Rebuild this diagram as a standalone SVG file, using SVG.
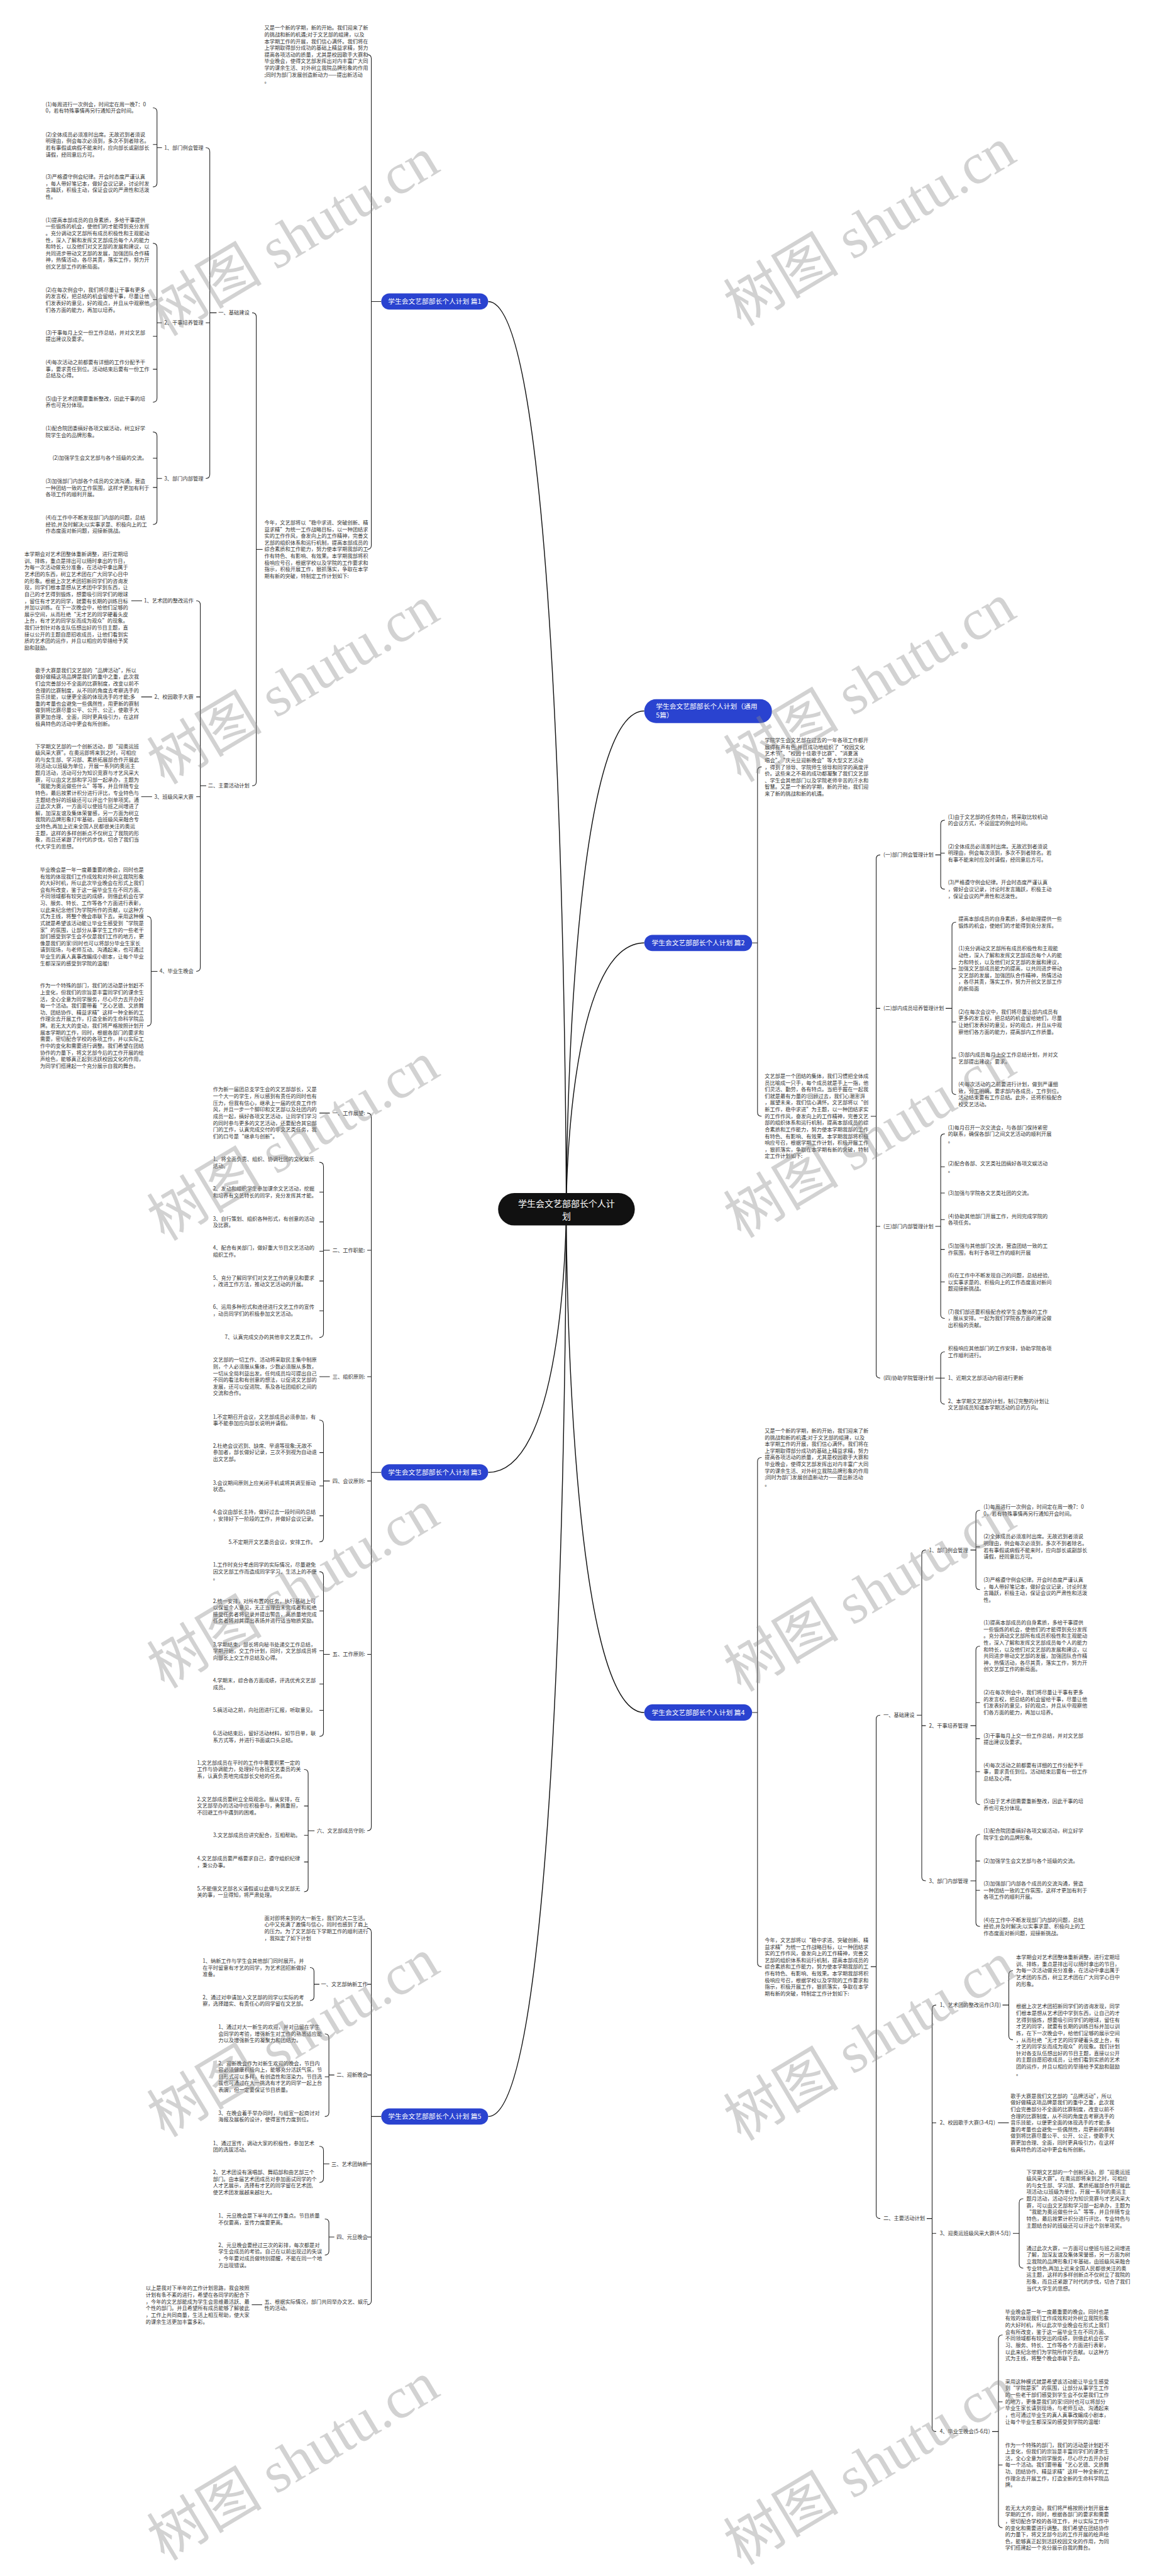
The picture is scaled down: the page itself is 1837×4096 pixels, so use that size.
<svg xmlns="http://www.w3.org/2000/svg" width="1837" height="4096" viewBox="0 0 1837 4096">
<style>
.t{font-family:"Noto Sans CJK SC","Noto Sans",sans-serif;font-size:11.5px;fill:#333}
.e{text-anchor:end}
.ln{fill:none;stroke:#222;stroke-width:1.5}
.tr{fill:none;stroke:#111;stroke-width:2}
.nb{fill:#2a43d0}
.nt{font-family:"Noto Sans CJK SC","Noto Sans",sans-serif;font-size:15px;fill:#fff}
.ct{font-family:"Noto Sans CJK SC","Noto Sans",sans-serif;font-size:19.5px;fill:#fff;text-anchor:middle}
.wm{font-family:"Liberation Serif","Noto Sans CJK SC",serif;font-size:128px;fill:#8a8a8a;opacity:.38;text-anchor:middle}
</style>
<rect width="1837" height="4096" fill="#fff"/>
<g transform="scale(0.71758,0.71772)">
<g id="connectors">
<path class="tr" d="M1255,2679 C1255,2679 1255,668 1082,668"/>
<path class="tr" d="M1255,2679 C1255,2679 1255,1575 1428,1575"/>
<path class="tr" d="M1255,2679 C1255,2679 1255,2089 1428,2089"/>
<path class="tr" d="M1255,2679 C1255,2679 1255,3262 1082,3262"/>
<path class="tr" d="M1255,2679 C1255,2679 1255,3794 1428,3794"/>
<path class="tr" d="M1255,2679 C1255,2679 1255,4689 1082,4689"/>
<path class="ln" d="M814,121 Q823,121 823,130 V1208 Q823,1217 814,1217 M823,668 H845"/>
<path class="ln" d="M568,1217 H582 M559,693 Q568,693 568,702 V1732 Q568,1741 559,1741"/>
<path class="ln" d="M465,693 H480 M456,327 Q465,327 465,336 V1051 Q465,1060 456,1060 M456,715 H465"/>
<path class="ln" d="M348,327 H359 M348,715 H359 M348,1060 H359"/>
<path class="ln" d="M339,239 Q348,239 348,248 V405 Q348,414 339,414 M339,320 H348"/>
<path class="ln" d="M339,539 Q348,539 348,548 V882 Q348,891 339,891 M339,664 H348 M339,745 H348 M339,818 H348"/>
<path class="ln" d="M339,957 Q348,957 348,966 V1153 Q348,1162 339,1162 M339,1015 H348 M339,1080 H348"/>
<path class="ln" d="M444,1741 H457 M435,1331 Q444,1331 444,1340 V2143 Q444,2152 435,2152 M435,1544 H444 M435,1765 H444"/>
<path class="ln" d="M291,1331 H315 M313,1544 H337 M313,1765 H337 M335,2152 H349"/>
<path class="ln" d="M326,2030 Q335,2030 335,2039 V2264 Q335,2273 326,2273"/>
<path class="ln" d="M814,2466 Q823,2466 823,2475 V4047 Q823,4056 814,4056 M814,2770 H823 M814,3050 H823 M814,3281 H823 M814,3665 H823 M823,3262 H845"/>
<path class="ln" d="M708,2466 H731 M717,2770 H731 M708,3050 H731 M717,3281 H731 M717,3665 H731 M683,4056 H697"/>
<path class="ln" d="M708,2575 Q717,2575 717,2584 V2954 Q717,2963 708,2963 M708,2641 H717 M708,2707 H717 M708,2772 H717 M708,2838 H717 M708,2904 H717"/>
<path class="ln" d="M708,3146 Q717,3146 717,3155 V3407 Q717,3416 708,3416 M708,3218 H717 M708,3292 H717 M708,3358 H717"/>
<path class="ln" d="M708,3482 Q717,3482 717,3491 V3838 Q717,3847 708,3847 M708,3569 H717 M708,3657 H717 M708,3731 H717 M708,3789 H717"/>
<path class="ln" d="M674,3920 Q683,3920 683,3929 V4182 Q683,4191 674,4191 M674,4001 H683 M674,4066 H683 M674,4125 H683"/>
<path class="ln" d="M814,4272 Q823,4272 823,4281 V5097 Q823,5106 814,5106 M814,4396 H823 M814,4597 H823 M814,4794 H823 M814,4956 H823 M823,4689 H845"/>
<path class="ln" d="M696,4396 H708 M687,4359 Q696,4359 696,4368 V4423 Q696,4432 687,4432"/>
<path class="ln" d="M729,4597 H741 M720,4506 Q729,4506 729,4515 V4680 Q729,4689 720,4689 M720,4601 H729"/>
<path class="ln" d="M717,4794 H730 M708,4755 Q717,4755 717,4764 V4826 Q717,4835 708,4835"/>
<path class="ln" d="M729,4956 H741 M720,4916 Q729,4916 729,4925 V4987 Q729,4996 720,4996"/>
<path class="ln" d="M558,5106 H581"/>
<path class="ln" d="M1667,2089 H1679 M1688,1699 Q1679,1699 1679,1708 V2464 Q1679,2473 1688,2473"/>
<path class="ln" d="M1930,2473 H1942 M1951,1894 Q1942,1894 1942,1903 V3044 Q1942,3053 1951,3053 M1942,2234 H1951 M1942,2717 H1951"/>
<path class="ln" d="M2073,1894 H2085 M2096,2234 H2110 M2073,2717 H2085 M2073,3053 H2085"/>
<path class="ln" d="M2094,1817 Q2085,1817 2085,1826 V1961 Q2085,1970 2094,1970 M2085,1890 H2094"/>
<path class="ln" d="M2119,2043 Q2110,2043 2110,2052 V2416 Q2110,2425 2119,2425 M2110,2146 H2119 M2110,2264 H2119 M2110,2344 H2119"/>
<path class="ln" d="M2094,2512 Q2085,2512 2085,2521 V2912 Q2085,2921 2094,2921 M2085,2585 H2094 M2085,2643 H2094 M2085,2702 H2094 M2085,2768 H2094 M2085,2840 H2094"/>
<path class="ln" d="M2094,2995 Q2085,2995 2085,3004 V3102 Q2085,3111 2094,3111 M2085,3053 H2094"/>
<path class="ln" d="M1667,3794 H1679 M1688,3229 Q1679,3229 1679,3238 V4348 Q1679,4357 1688,4357"/>
<path class="ln" d="M1930,4357 H1942 M1951,3800 Q1942,3800 1942,3809 V4906 Q1942,4915 1951,4915"/>
<path class="ln" d="M2032,3800 H2043 M2052,3434 Q2043,3434 2043,3443 V4158 Q2043,4167 2052,4167 M2043,3823 H2052"/>
<path class="ln" d="M2151,3434 H2163 M2151,3823 H2163 M2151,4167 H2163"/>
<path class="ln" d="M2172,3346 Q2163,3346 2163,3355 V3513 Q2163,3522 2172,3522 M2163,3427 H2172"/>
<path class="ln" d="M2172,3647 Q2163,3647 2163,3656 V3989 Q2163,3998 2172,3998 M2163,3772 H2172 M2163,3852 H2172 M2163,3925 H2172"/>
<path class="ln" d="M2172,4064 Q2163,4064 2163,4073 V4259 Q2163,4268 2172,4268 M2163,4123 H2172 M2163,4188 H2172"/>
<path class="ln" d="M2054,4915 H2066 M2075,4442 Q2066,4442 2066,4451 V5378 Q2066,5387 2075,5387 M2066,4703 H2075 M2066,4948 H2075"/>
<path class="ln" d="M2222,4442 H2236 M2245,4366 Q2236,4366 2236,4375 V4510 Q2236,4519 2245,4519"/>
<path class="ln" d="M2212,4703 H2236"/>
<path class="ln" d="M2245,4948 H2259 M2268,4871 Q2259,4871 2259,4880 V5016 Q2259,5025 2268,5025"/>
<path class="ln" d="M2199,5387 H2213 M2222,5173 Q2213,5173 2213,5182 V5591 Q2213,5600 2222,5600 M2213,5321 H2222 M2213,5461 H2222"/>
</g>

<g id="center">
<rect x="1104" y="2643" width="303" height="72" rx="36" fill="#111"/>
<text class="ct" x="1255.5" y="2674">学生会文艺部部长个人计</text>
<text class="ct" x="1255.5" y="2701">划</text>
</g>
<g id="node-p1">
<rect class="nb" x="845" y="650" width="237" height="36" rx="18"/>
<text class="nt" x="963.5" y="673.5" text-anchor="middle">学生会文艺部部长个人计划 篇1</text>
</g>
<g id="node-p3">
<rect class="nb" x="845" y="3244" width="237" height="36" rx="18"/>
<text class="nt" x="963.5" y="3267.5" text-anchor="middle">学生会文艺部部长个人计划 篇3</text>
</g>
<g id="node-p5">
<rect class="nb" x="845" y="4671" width="237" height="36" rx="18"/>
<text class="nt" x="963.5" y="4694.5" text-anchor="middle">学生会文艺部部长个人计划 篇5</text>
</g>
<g id="node-all">
<rect class="nb" x="1428" y="1549" width="283" height="53" rx="26"/>
<text class="nt" x="1454" y="1570">学生会文艺部部长个人计划（通用<tspan x="1454" dy="20">5篇）</tspan></text>
</g>
<g id="node-p2">
<rect class="nb" x="1428" y="2071" width="239" height="36" rx="18"/>
<text class="nt" x="1547.5" y="2094.5" text-anchor="middle">学生会文艺部部长个人计划 篇2</text>
</g>
<g id="node-p4">
<rect class="nb" x="1428" y="3776" width="239" height="36" rx="18"/>
<text class="nt" x="1547.5" y="3799.5" text-anchor="middle">学生会文艺部部长个人计划 篇4</text>
</g>

<g id="p1-texts">
<text class="t" x="586" y="66">又是一个新的学期，新的开始。我们迎来了新<tspan x="586" dy="14.8">的挑战和新的机遇;对于文艺部的组建，以及</tspan><tspan x="586" dy="14.8">本学期工作的开展，我们信心满怀。我们将在</tspan><tspan x="586" dy="14.8">上学期取得部分成功的基础上精益求精，努力</tspan><tspan x="586" dy="14.8">提高各项活动的质量，尤其是校园歌手大赛和</tspan><tspan x="586" dy="14.8">毕业晚会，使得文艺部发挥出对内丰富广大同</tspan><tspan x="586" dy="14.8">学的课余生活、对外树立我院品牌形象的作用</tspan><tspan x="586" dy="14.8">;同时为部门发展创造新动力——提出新活动</tspan><tspan x="586" dy="14.8">。</tspan></text>
<text class="t" x="586" y="1162">今年，文艺部将以“稳中求进、突破创新、精<tspan x="586" dy="14.8">益求精”为统一工作战略目标，以一种团结求</tspan><tspan x="586" dy="14.8">实的工作作风，奋发向上的工作精神，完善文</tspan><tspan x="586" dy="14.8">艺部的组织体系和运行机制，提高本部成员的</tspan><tspan x="586" dy="14.8">综合素质和工作能力，努力使本学期我部的工</tspan><tspan x="586" dy="14.8">作有特色、有影响、有效果。本学期我部将积</tspan><tspan x="586" dy="14.8">极响应号召，根据学校以及学院的工作要求和</tspan><tspan x="586" dy="14.8">指示，积极开展工作，狠抓落实，争取在本学</tspan><tspan x="586" dy="14.8">期有新的突破，特制定工作计划如下:</tspan></text>
<text class="t e" x="553" y="697">一、基础建设</text>
<text class="t e" x="451" y="331">1、部门例会管理</text>
<text class="t e" x="451" y="719">2、干事培养管理</text>
<text class="t e" x="451" y="1064">3、部门内部管理</text>
<text class="t e" x="553" y="1745">二、主要活动计划</text>
<text class="t e" x="429" y="1335">1、艺术团的整改运作</text>
<text class="t e" x="429" y="1548">2、校园歌手大赛</text>
<text class="t e" x="429" y="1769">3、班级风采大赛</text>
<text class="t e" x="429" y="2156">4、毕业生晚会</text>
<text class="t" x="101" y="235">(1)每周进行一次例会，时间定在周一晚7：0<tspan x="101" dy="14.8">0，若有特殊事情再另行通知开会时间。</tspan></text>
<text class="t" x="101" y="302">(2)全体成员必须准时出席。无故迟到者须说<tspan x="101" dy="14.8">明理由，例会每次必须到，多次不到者除名。</tspan><tspan x="101" dy="14.8">若有事假或病假不能来时，应向部长或副部长</tspan><tspan x="101" dy="14.8">请假，经同意后方可。</tspan></text>
<text class="t" x="101" y="396">(3)严格遵守例会纪律。开会时态度严谨认真<tspan x="101" dy="14.8">，每人带好笔记本，做好会议记录，讨论时发</tspan><tspan x="101" dy="14.8">言踊跃，积极主动，保证会议的严肃性和活泼</tspan><tspan x="101" dy="14.8">性。</tspan></text>
<text class="t" x="101" y="491.5">(1)提高本部成员的自身素质，多给干事提供<tspan x="101" dy="14.8">一些锻炼的机会，使他们的才能得到充分发挥</tspan><tspan x="101" dy="14.8">。充分调动文艺部所有成员积极性和主观能动</tspan><tspan x="101" dy="14.8">性，深入了解和发挥文艺部成员每个人的能力</tspan><tspan x="101" dy="14.8">和特长，以及他们对文艺部的发展和建议，以</tspan><tspan x="101" dy="14.8">共同进步带动文艺部的发展，加强团队合作精</tspan><tspan x="101" dy="14.8">神，热情活动，各尽其责，落实工作，努力开</tspan><tspan x="101" dy="14.8">创文艺部工作的新局面。</tspan></text>
<text class="t" x="101" y="646">(2)在每次例会中，我们将尽量让干事有更多<tspan x="101" dy="14.8">的发言权，把总结的机会留给干事，尽量让他</tspan><tspan x="101" dy="14.8">们发表好的意见，好的观点，并且从中观察他</tspan><tspan x="101" dy="14.8">们各方面的能力，再加以培养。</tspan></text>
<text class="t" x="101" y="741">(3)干事每月上交一份工作总结，并对文艺部<tspan x="101" dy="14.8">提出建议及要求。</tspan></text>
<text class="t" x="101" y="807">(4)每次活动之前都要有详细的工作分配予干<tspan x="101" dy="14.8">事，要求责任到位。活动结束后要有一份工作</tspan><tspan x="101" dy="14.8">总结及心得。</tspan></text>
<text class="t" x="101" y="887">(5)由于艺术团需要重新整改，因此干事的培<tspan x="101" dy="14.8">养也可充分体现。</tspan></text>
<text class="t" x="101" y="953">(1)配合院团委搞好各项文娱活动，树立好学<tspan x="101" dy="14.8">院学生会的品牌形象。</tspan></text>
<text class="t e" x="326" y="1019">(2)加强学生会文艺部与各个班级的交流。</text>
<text class="t" x="101" y="1070">(3)加强部门内部各个成员的交流沟通，营造<tspan x="101" dy="14.8">一种团结一致的工作氛围，这样才更加有利于</tspan><tspan x="101" dy="14.8">各项工作的顺利开展。</tspan></text>
<text class="t" x="101" y="1151">(4)在工作中不断发现部门内部的问题，总结<tspan x="101" dy="14.8">经验,并及时解决;以实事求是、积极向上的工</tspan><tspan x="101" dy="14.8">作态度面对新问题，迎接新挑战。</tspan></text>
<text class="t" x="54" y="1232">本学期会对艺术团整体重新调整，进行定期培<tspan x="54" dy="14.8">训、排练，重点是排出可以随时拿出的节目，</tspan><tspan x="54" dy="14.8">为每一次活动做充分准备，在活动中拿出属于</tspan><tspan x="54" dy="14.8">艺术团的东西，树立艺术团在广大同学心目中</tspan><tspan x="54" dy="14.8">的形象。根据上次艺术团招新同学们的咨询发</tspan><tspan x="54" dy="14.8">现，同学们根本是想从艺术团中学到东西，让</tspan><tspan x="54" dy="14.8">自己的才艺得到锻炼，想要吸引同学们的眼球</tspan><tspan x="54" dy="14.8">，留住有才艺的同学，就要有长期的训练目标</tspan><tspan x="54" dy="14.8">并加以训练。在下一次晚会中，给他们足够的</tspan><tspan x="54" dy="14.8">展示空间，从而杜绝“无才艺的同学硬着头皮</tspan><tspan x="54" dy="14.8">上台，有才艺的同学反而成为观众”的现象。</tspan><tspan x="54" dy="14.8">我们计划针对各支队伍想出好的节目主题，直</tspan><tspan x="54" dy="14.8">接以公开的主题自愿招收成员，让他们看到实</tspan><tspan x="54" dy="14.8">质的艺术团的运作，并且以相应的举措给予奖</tspan><tspan x="54" dy="14.8">励和鼓励。</tspan></text>
<text class="t" x="78" y="1489">歌手大赛是我们文艺部的“品牌活动”，所以<tspan x="78" dy="14.8">做好做精这项品牌是我们的重中之重，此次我</tspan><tspan x="78" dy="14.8">们会完善部分不全面的比赛制度，改变以前不</tspan><tspan x="78" dy="14.8">合理的比赛制度，从不同的角度去考察选手的</tspan><tspan x="78" dy="14.8">音乐技能，以便更全面的体现选手的才能;多</tspan><tspan x="78" dy="14.8">重的考量也会避免一些偶然性，用更新的赛制</tspan><tspan x="78" dy="14.8">做到将比赛尽量公平、公开、公正，使歌手大</tspan><tspan x="78" dy="14.8">赛更加合理、全面，同时更具吸引力，在这样</tspan><tspan x="78" dy="14.8">极具特色的活动中更会有所创新。</tspan></text>
<text class="t" x="78" y="1657.5">下学期文艺部的一个创新活动，即“迎奥运班<tspan x="78" dy="14.8">级风采大赛”。在奥运即将来到之时，可相应</tspan><tspan x="78" dy="14.8">的与女生部、学习部、素质拓展部合作开展此</tspan><tspan x="78" dy="14.8">项活动;以班级为单位，开展一系列的奥运主</tspan><tspan x="78" dy="14.8">题月活动，活动可分为知识竞赛与才艺风采大</tspan><tspan x="78" dy="14.8">赛，可以由文艺部和学习部一起承办，主题为</tspan><tspan x="78" dy="14.8">“我能为奥运做些什么”等等，并且伴随专业</tspan><tspan x="78" dy="14.8">特色，最后按累计积分进行评比，专业特色与</tspan><tspan x="78" dy="14.8">主题结合好的班级还可以评出个别单项奖。通</tspan><tspan x="78" dy="14.8">过此次大赛，一方面可以使班与班之间增进了</tspan><tspan x="78" dy="14.8">解，加深友谊及集体荣誉感，另一方面为树立</tspan><tspan x="78" dy="14.8">我院的品牌形象打牢基础，由班级风采融合专</tspan><tspan x="78" dy="14.8">业特色,再加上近来全国人民都很关注的奥运</tspan><tspan x="78" dy="14.8">主题，这样的多样创新点不仅树立了我院的形</tspan><tspan x="78" dy="14.8">象，而且还紧跟了时代的步伐，切合了我们当</tspan><tspan x="78" dy="14.8">代大学生的思想。</tspan></text>
<text class="t" x="89" y="1931">毕业晚会是一年一度最重要的晚会，同时也是<tspan x="89" dy="14.8">有效的体现我们工作成效和对外树立我院形象</tspan><tspan x="89" dy="14.8">的大好时机，所以此次毕业晚会在形式上我们</tspan><tspan x="89" dy="14.8">会有所改变，鉴于这一届毕业生在不同方面、</tspan><tspan x="89" dy="14.8">不同领域都有较突出的成绩，则借此机会在学</tspan><tspan x="89" dy="14.8">习、服务、特长、工作等各个方面进行表彰，</tspan><tspan x="89" dy="14.8">以此来纪念他们为学院所作的贡献，以这种方</tspan><tspan x="89" dy="14.8">式为主线，将整个晚会串联下去。采用这种模</tspan><tspan x="89" dy="14.8">式就是希望该活动能让毕业生感受到“学院是</tspan><tspan x="89" dy="14.8">家”的氛围，让部分从事学生工作的一些老干</tspan><tspan x="89" dy="14.8">部们感受到学生会不仅是我们工作的地方，更</tspan><tspan x="89" dy="14.8">像是我们的家!同时也可以将部分毕业生家长</tspan><tspan x="89" dy="14.8">请到现场，与老师互动、沟通起来，也可通过</tspan><tspan x="89" dy="14.8">毕业生的真人真事改编成小剧本，让每个毕业</tspan><tspan x="89" dy="14.8">生都深深的感受到学院的温暖!</tspan></text>
<text class="t" x="89" y="2188">作为一个特殊的部门，我们的活动是计划赶不<tspan x="89" dy="14.8">上变化，但我们的宗旨是丰富同学们的课余生</tspan><tspan x="89" dy="14.8">活，全心全意为同学服务，尽心尽力去开办好</tspan><tspan x="89" dy="14.8">每一个活动。我们要带着“艺心艺德、文质舞</tspan><tspan x="89" dy="14.8">功、团结协作、精益求精”这样一种全新的工</tspan><tspan x="89" dy="14.8">作理念去开展工作，打造全新的生命科学院品</tspan><tspan x="89" dy="14.8">牌。若无太大的变动，我们将严格按照计划开</tspan><tspan x="89" dy="14.8">展本学期的工作，同时，根据各部门的要求和</tspan><tspan x="89" dy="14.8">需要，密切配合学校的各项工作，并以实际工</tspan><tspan x="89" dy="14.8">作中的变化和需要进行调整。我们希望在团结</tspan><tspan x="89" dy="14.8">协作的力量下，将文艺部今后的工作开展的绘</tspan><tspan x="89" dy="14.8">声绘色，能够真正起到活跃校园文化的作用，</tspan><tspan x="89" dy="14.8">为同学们搭建起一个充分展示自我的舞台。</tspan></text>
</g>

<g id="p3-texts">
<text class="t e" x="809" y="2470">一、工作展望:</text>
<text class="t e" x="809" y="2774">二、工作职能:</text>
<text class="t e" x="809" y="3054">三、组织原则:</text>
<text class="t e" x="809" y="3285">四、会议原则:</text>
<text class="t e" x="809" y="3669">五、工作原则:</text>
<text class="t e" x="809" y="4060">六、文艺部成员守则:</text>
<text class="t" x="472" y="2418">作为新一届团总支学生会的文艺部部长，又是<tspan x="472" dy="14.8">一个大一的学生，所以感到有责任的同时也有</tspan><tspan x="472" dy="14.8">压力，但我有信心，继承上一届的优良工作作</tspan><tspan x="472" dy="14.8">风，并且一步一个脚印和文艺部以及社团内的</tspan><tspan x="472" dy="14.8">成员一起，搞好各项文艺活动，让同学们学习</tspan><tspan x="472" dy="14.8">的同时参与更多的文艺活动，还要配合其它部</tspan><tspan x="472" dy="14.8">门的工作，认真完成交付的非文艺类任务，我</tspan><tspan x="472" dy="14.8">们的口号是“继承与创新”。</tspan></text>
<text class="t" x="472" y="2572">1、将全面负责、组织、协调社团的文化娱乐<tspan x="472" dy="14.8">活动。</tspan></text>
<text class="t" x="472" y="2638">2、发动和组织学生参加课余文艺活动，挖掘<tspan x="472" dy="14.8">和培养有文艺特长的同学，充分发挥其才能。</tspan></text>
<text class="t" x="472" y="2704">3、自行策划、组织各种形式，有创意的活动<tspan x="472" dy="14.8">及比赛。</tspan></text>
<text class="t" x="472" y="2769">4、配合有关部门，做好重大节目文艺活动的<tspan x="472" dy="14.8">组织工作。</tspan></text>
<text class="t" x="472" y="2835">5、充分了解同学们对文艺工作的意见和要求<tspan x="472" dy="14.8">，改进工作方法，推动文艺活动的开展。</tspan></text>
<text class="t" x="472" y="2900">6、运用多种形式和途径进行文艺工作的宣传<tspan x="472" dy="14.8">，动员同学们的积极参加文艺活动。</tspan></text>
<text class="t e" x="700" y="2967">7、认真完成交办的其他非文艺类工作。</text>
<text class="t" x="472" y="3017">文艺部的一切工作、活动将采取民主集中制原<tspan x="472" dy="14.8">则，个人必须服从集体，少数必须服从多数，</tspan><tspan x="472" dy="14.8">一切从全局利益出发。任何成员均可提出自己</tspan><tspan x="472" dy="14.8">不同的看法和有创意的想法，以促进文艺部的</tspan><tspan x="472" dy="14.8">发展，还可以促进院、系及各社团组织之间的</tspan><tspan x="472" dy="14.8">交流和合作。</tspan></text>
<text class="t" x="472" y="3143">1.不定期召开会议，文艺部成员必须参加，有<tspan x="472" dy="14.8">事不能参加应向部长说明并请假。</tspan></text>
<text class="t" x="472" y="3207">2.杜绝会议迟到、缺席、早退等现象;无故不<tspan x="472" dy="14.8">参加者，部长做好记录，三次不到视为自动退</tspan><tspan x="472" dy="14.8">出文艺部。</tspan></text>
<text class="t" x="472" y="3289">3.会议期间原则上应关闭手机或将其调至振动<tspan x="472" dy="14.8">状态。</tspan></text>
<text class="t" x="472" y="3354">4.会议由部长主持，做好过去一段时间的总结<tspan x="472" dy="14.8">，安排好下一阶段的工作，并做好会议记录。</tspan></text>
<text class="t e" x="700" y="3420">5.不定期开文艺委员会议，安排工作。</text>
<text class="t" x="472" y="3471">1.工作时充分考虑同学的实际情况，尽量避免<tspan x="472" dy="14.8">因文艺部工作而造成同学学习、生活上的不便</tspan><tspan x="472" dy="14.8">。</tspan></text>
<text class="t" x="472" y="3551">2.统一安排，对所布置的任务，执行基础上可<tspan x="472" dy="14.8">以保留个人意见，无正当理由未完成者和拒绝</tspan><tspan x="472" dy="14.8">接受任务者将记录并提出警告，高质量地完成</tspan><tspan x="472" dy="14.8">任务者将对其提出表扬并进行适当物质奖励。</tspan></text>
<text class="t" x="472" y="3647">3.学期结束，部长将向秘书处递交工作总结，<tspan x="472" dy="14.8">学期开始，交工作计划，同时，文艺部成员将</tspan><tspan x="472" dy="14.8">向部长上交工作总结及心得。</tspan></text>
<text class="t" x="472" y="3727">4.学期末，综合各方面成绩，评选优秀文艺部<tspan x="472" dy="14.8">成员。</tspan></text>
<text class="t e" x="700" y="3793">5.搞活动之前，向社团进行汇报，听取意见。</text>
<text class="t" x="472" y="3844">6.活动结束后，留好活动材料，如节目单，联<tspan x="472" dy="14.8">系方式等，并进行书面或口头总结。</tspan></text>
<text class="t" x="437" y="3909">1.文艺部成员在平时的工作中需要积累一定的<tspan x="437" dy="14.8">工作与协调能力，处理好与各班文艺委员的关</tspan><tspan x="437" dy="14.8">系，认真负责地完成部长交给的任务。</tspan></text>
<text class="t" x="437" y="3990">2.文艺部成员要树立全局观念。服从安排，在<tspan x="437" dy="14.8">文艺部举办的活动中应积极参与，勇挑重担，</tspan><tspan x="437" dy="14.8">不回避工作中遇到的困难。</tspan></text>
<text class="t e" x="666" y="4070">3.文艺部成员应讲究配合，互相帮助。</text>
<text class="t" x="437" y="4122">4.文艺部成员要严格要求自己，遵守组织纪律<tspan x="437" dy="14.8">，秉公办事。</tspan></text>
<text class="t" x="437" y="4188">5.不能借文艺部名义请假或以此做与文艺部无<tspan x="437" dy="14.8">关的事，一旦得知，将严肃处理。</tspan></text>
</g>

<g id="p5-texts">
<text class="t" x="586" y="4253.5">面对即将来到的大一新生，我们的大二生活。<tspan x="586" dy="14.8">心中又充满了激情与信心，同时也感到了肩上</tspan><tspan x="586" dy="14.8">的压力。为了文艺部在下学期工作的顺利进行</tspan><tspan x="586" dy="14.8">，我拟定了如下计划</tspan></text>
<text class="t e" x="815" y="4400">一、文艺部纳新工作</text>
<text class="t e" x="815" y="4601">二、迎新晚会</text>
<text class="t e" x="815" y="4798">三、艺术团纳新</text>
<text class="t e" x="815" y="4960">四、元旦晚会</text>
<text class="t" x="586" y="5103">五、根据实际情况，部门共同举办文艺、娱乐<tspan x="586" dy="14.8">性的活动。</tspan></text>
<text class="t" x="449" y="4348.7">1、纳新工作与学生会其他部门同时展开。并<tspan x="449" dy="14.8">在平时留意有才艺的同学，为艺术团招新做好</tspan><tspan x="449" dy="14.8">准备。</tspan></text>
<text class="t" x="449" y="4429">2、通过对申请加入文艺部的同学以实际的考<tspan x="449" dy="14.8">察，选择踏实、有责任心的同学留在文艺部。</tspan></text>
<text class="t" x="484" y="4495">1、通过对大一新生的欢迎，并对已留在学生<tspan x="484" dy="14.8">会同学的考验，增强新生对工作的熟悉适应能</tspan><tspan x="484" dy="14.8">力以及增强新生的凝聚力和团结力。</tspan></text>
<text class="t" x="484" y="4575">2、迎新晚会作为对新生欢迎的晚会，节目内<tspan x="484" dy="14.8">容必须健康积极向上，能够充分活跃气氛，节</tspan><tspan x="484" dy="14.8">目形式可以多样，有创造性和渲染力。节目选</tspan><tspan x="484" dy="14.8">拔也可通过在大一挑选有才艺的同学一起上台</tspan><tspan x="484" dy="14.8">表演，但一定要保证节目质量。</tspan></text>
<text class="t" x="484" y="4685.5">3、在晚会着手举办同时，与组宣一起商讨对<tspan x="484" dy="14.8">海报及展板的设计，使得宣传力度到位。</tspan></text>
<text class="t" x="472" y="4752">1、通过宣传，调动大家的积极性，参加艺术<tspan x="472" dy="14.8">团的选拔活动。</tspan></text>
<text class="t" x="472" y="4817">2、艺术团设有演唱部、舞蹈部和曲艺部三个<tspan x="472" dy="14.8">部门。由本届艺术团成员对参加面试同学的个</tspan><tspan x="472" dy="14.8">人才艺展示，选择有才艺的同学留在艺术团,</tspan><tspan x="472" dy="14.8">使艺术团发展越来越壮大。</tspan></text>
<text class="t" x="484" y="4913">1、元旦晚会是下半年的工作重点。节目质量<tspan x="484" dy="14.8">不仅要高，宣传力度要更高。</tspan></text>
<text class="t" x="484" y="4978">2、元旦晚会要经过三次的彩排，每次都是对<tspan x="484" dy="14.8">学生会成员的考验。自己在以前出现过的失误</tspan><tspan x="484" dy="14.8">，今年要对成员做特别提醒，不能在同一个地</tspan><tspan x="484" dy="14.8">方出现错误。</tspan></text>
<text class="t" x="323" y="5073.6">以上是我对下半年的工作计划思路，我会按照<tspan x="323" dy="14.8">计划有条不紊的进行，希望在各同学的配合下</tspan><tspan x="323" dy="14.8">，今年的文艺部能成为学生会思维最活跃、最</tspan><tspan x="323" dy="14.8">个性的部门。并且希望所有成员能够了解彼此</tspan><tspan x="323" dy="14.8">，工作上共同商量，生活上相互帮助，使大家</tspan><tspan x="323" dy="14.8">的课余生活更加丰富多彩。</tspan></text>
</g>

<g id="p2-texts">
<text class="t" x="1695" y="1644.2">学院学生会文艺部在过去的一年各项工作都开<tspan x="1695" dy="14.8">展得有声有色,并且成功地组织了“校园文化</tspan><tspan x="1695" dy="14.8">艺术节”、“校园十佳歌手比赛”、“消夏演</tspan><tspan x="1695" dy="14.8">唱会”、“庆元旦迎新晚会”等大型文艺活动</tspan><tspan x="1695" dy="14.8">，得到了领导、学院师生领导和同学的高度评</tspan><tspan x="1695" dy="14.8">价。这些来之不易的成功都凝聚了我们文艺部</tspan><tspan x="1695" dy="14.8">、学生会其他部门以及学院老师辛苦的汗水和</tspan><tspan x="1695" dy="14.8">智慧。又是一个新的学期，新的开始，我们迎</tspan><tspan x="1695" dy="14.8">来了新的挑战和新的机遇。</tspan></text>
<text class="t" x="1695" y="2388">文艺部是一个团结的集体，我们习惯把全体成<tspan x="1695" dy="14.8">员比喻成一只手，每个成员就是手上一指，他</tspan><tspan x="1695" dy="14.8">们灵活、勤劳，各有特点。当把手握在一起我</tspan><tspan x="1695" dy="14.8">们就是最有力量的!回顾过去，我们心潮澎湃</tspan><tspan x="1695" dy="14.8">，展望未来，我们信心满怀。文艺部将以“创</tspan><tspan x="1695" dy="14.8">新工作，稳中求进”为主题，以一种团结求实</tspan><tspan x="1695" dy="14.8">的工作作风，奋发向上的工作精神，完善文艺</tspan><tspan x="1695" dy="14.8">部的组织体系和运行机制，提高本部成员的综</tspan><tspan x="1695" dy="14.8">合素质和工作能力，努力使本学期我部的工作</tspan><tspan x="1695" dy="14.8">有特色、有影响、有效果。本学期我部将积极</tspan><tspan x="1695" dy="14.8">响应号召，根据学期工作计划，积极开展工作</tspan><tspan x="1695" dy="14.8">，狠抓落实，争取在本学期有新的突破，特制</tspan><tspan x="1695" dy="14.8">定工作计划如下:</tspan></text>
<text class="t" x="1958" y="1898">(一)部门例会管理计划</text>
<text class="t" x="1958" y="2238">(二)部内成员培养管理计划</text>
<text class="t" x="1958" y="2721">(三)部门内部管理计划</text>
<text class="t" x="1958" y="3057">(四)协助学院管理计划</text>
<text class="t" x="2101" y="1813.5">(1)由于文艺部的任务特点，将采取比较机动<tspan x="2101" dy="14.8">的会议方式，不设固定的例会时间。</tspan></text>
<text class="t" x="2101" y="1879">(2)全体成员必须准时出席。无故迟到者须说<tspan x="2101" dy="14.8">明理由，例会每次须到，多次不到者除名。若</tspan><tspan x="2101" dy="14.8">有事不能来时应及时请假，经同意后方可。</tspan></text>
<text class="t" x="2101" y="1959.6">(3)严格遵守例会纪律。开会时态度严谨认真<tspan x="2101" dy="14.8">，做好会议记录，讨论时发言踊跃，积极主动</tspan><tspan x="2101" dy="14.8">，保证会议的严肃性和活泼性。</tspan></text>
<text class="t" x="2124" y="2040">提高本部成员的自身素质，多给助理提供一些<tspan x="2124" dy="14.8">锻炼的机会，使她们的才能得到充分发挥。</tspan></text>
<text class="t" x="2124" y="2105.8">(1)充分调动文艺部所有成员积极性和主观能<tspan x="2124" dy="14.8">动性，深入了解和发挥文艺部成员每个人的能</tspan><tspan x="2124" dy="14.8">力和特长，以及他们对文艺部的发展和建议，</tspan><tspan x="2124" dy="14.8">加强文艺部成员能力的提高，以共同进步带动</tspan><tspan x="2124" dy="14.8">文艺部的发展，加强团队合作精神，热情活动</tspan><tspan x="2124" dy="14.8">，各尽其责，落实工作，努力开创文艺部工作</tspan><tspan x="2124" dy="14.8">的新局面</tspan></text>
<text class="t" x="2124" y="2245.5">(2)在每次会议中，我们将尽量让部内成员有<tspan x="2124" dy="14.8">更多的发言权，把总结的机会留给她们，尽量</tspan><tspan x="2124" dy="14.8">让她们发表好的意见，好的观点，并且从中观</tspan><tspan x="2124" dy="14.8">察他们各方面的能力，提高部内工作质量。</tspan></text>
<text class="t" x="2124" y="2340.7">(3)部内成员每月上交工作总结计划，并对文<tspan x="2124" dy="14.8">艺部提出建议，要求。</tspan></text>
<text class="t" x="2124" y="2406.4">(4)每次活动的之前要进行计划，做到严谨细<tspan x="2124" dy="14.8">致，分工明确。要求部内各成员，工作到位。</tspan><tspan x="2124" dy="14.8">活动结束要有工作总结。此外，还将积极配合</tspan><tspan x="2124" dy="14.8">校文艺活动。</tspan></text>
<text class="t" x="2101" y="2501.7">(1)每月召开一次交流会，与各部门保持紧密<tspan x="2101" dy="14.8">的联系，确保各部门之间文艺活动的顺利开展</tspan><tspan x="2101" dy="14.8">。</tspan></text>
<text class="t" x="2101" y="2581.8">(2)配合各部、文艺类社团搞好各项文娱活动<tspan x="2101" dy="14.8">。</tspan></text>
<text class="t" x="2101" y="2647.4">(3)加强与学院各文艺类社团的交流。</text>
<text class="t" x="2101" y="2698.3">(4)协助其他部门开展工作，共同完成学院的<tspan x="2101" dy="14.8">各项任务。</tspan></text>
<text class="t" x="2101" y="2764.9">(5)加强与其他部门交流，营造团结一致的工<tspan x="2101" dy="14.8">作氛围，有利于各项工作的顺利开展</tspan></text>
<text class="t" x="2101" y="2829.7">(6)在工作中不断发现自己的问题，总结经验,<tspan x="2101" dy="14.8">以实事求是的、积极向上的工作态度面对新问</tspan><tspan x="2101" dy="14.8">题迎接新挑战。</tspan></text>
<text class="t" x="2101" y="2910">(7)我们部还要积极配合校学生会整体的工作<tspan x="2101" dy="14.8">，服从安排。一起为我们学院各方面的建设做</tspan><tspan x="2101" dy="14.8">出积极的贡献。</tspan></text>
<text class="t" x="2101" y="2991.5">积极响应其他部门的工作安排，协助学院各项<tspan x="2101" dy="14.8">工作顺利进行。</tspan></text>
<text class="t" x="2101" y="3057">1、近期文艺部活动内容进行更新</text>
<text class="t" x="2101" y="3108">2、本学期文艺部的计划，制订完整的计划让<tspan x="2101" dy="14.8">文艺部成员知道本学期活动的总的方向。</tspan></text>
</g>

<g id="p4-texts">
<text class="t" x="1695" y="3173.8">又是一个新的学期，新的开始，我们迎来了新<tspan x="1695" dy="14.8">的挑战和新的机遇;对于文艺部的组建，以及</tspan><tspan x="1695" dy="14.8">本学期工作的开展，我们信心满怀。我们将在</tspan><tspan x="1695" dy="14.8">上学期取得部分成功的基础上精益求精，努力</tspan><tspan x="1695" dy="14.8">提高各项活动的质量，尤其是校园歌手大赛和</tspan><tspan x="1695" dy="14.8">毕业晚会，使得文艺部发挥出对内丰富广大同</tspan><tspan x="1695" dy="14.8">学的课余生活、对外树立我院品牌形象的作用</tspan><tspan x="1695" dy="14.8">;同时为部门发展创造新动力——提出新活动</tspan><tspan x="1695" dy="14.8">。</tspan></text>
<text class="t" x="1695" y="4302.4">今年，文艺部将以“稳中求进、突破创新、精<tspan x="1695" dy="14.8">益求精”为统一工作战略目标，以一种团结求</tspan><tspan x="1695" dy="14.8">实的工作作风，奋发向上的工作精神，完善文</tspan><tspan x="1695" dy="14.8">艺部的组织体系和运行机制，提高本部成员的</tspan><tspan x="1695" dy="14.8">综合素质和工作能力，努力使本学期我部的工</tspan><tspan x="1695" dy="14.8">作有特色、有影响、有效果。本学期我部将积</tspan><tspan x="1695" dy="14.8">极响应号召，根据学校以及学院的工作要求和</tspan><tspan x="1695" dy="14.8">指示，积极开展工作，狠抓落实，争取在本学</tspan><tspan x="1695" dy="14.8">期有新的突破，特制定工作计划如下:</tspan></text>
<text class="t" x="1958" y="3804">一、基础建设</text>
<text class="t" x="1958" y="4919">二、主要活动计划</text>
<text class="t" x="2059" y="3438">1、部门例会管理</text>
<text class="t" x="2059" y="3827">2、干事培养管理</text>
<text class="t" x="2059" y="4171">3、部门内部管理</text>
<text class="t" x="2180" y="3343">(1)每周进行一次例会，时间定在周一晚7：0<tspan x="2180" dy="14.8">0，若有特殊事情再另行通知开会时间。</tspan></text>
<text class="t" x="2180" y="3408.7">(2)全体成员必须准时出席。无故迟到者须说<tspan x="2180" dy="14.8">明理由，例会每次必须到，多次不到者除名。</tspan><tspan x="2180" dy="14.8">若有事假或病假不能来时，应向部长或副部长</tspan><tspan x="2180" dy="14.8">请假，经同意后方可。</tspan></text>
<text class="t" x="2180" y="3504">(3)严格遵守例会纪律。开会时态度严谨认真<tspan x="2180" dy="14.8">，每人带好笔记本，做好会议记录，讨论时发</tspan><tspan x="2180" dy="14.8">言踊跃，积极主动，保证会议的严肃性和活泼</tspan><tspan x="2180" dy="14.8">性。</tspan></text>
<text class="t" x="2180" y="3599">(1)提高本部成员的自身素质，多给干事提供<tspan x="2180" dy="14.8">一些锻炼的机会，使他们的才能得到充分发挥</tspan><tspan x="2180" dy="14.8">。充分调动文艺部所有成员积极性和主观能动</tspan><tspan x="2180" dy="14.8">性，深入了解和发挥文艺部成员每个人的能力</tspan><tspan x="2180" dy="14.8">和特长，以及他们对文艺部的发展和建议，以</tspan><tspan x="2180" dy="14.8">共同进步带动文艺部的发展，加强团队合作精</tspan><tspan x="2180" dy="14.8">神，热情活动，各尽其责，落实工作，努力开</tspan><tspan x="2180" dy="14.8">创文艺部工作的新局面。</tspan></text>
<text class="t" x="2180" y="3753.7">(2)在每次例会中，我们将尽量让干事有更多<tspan x="2180" dy="14.8">的发言权，把总结的机会留给干事，尽量让他</tspan><tspan x="2180" dy="14.8">们发表好的意见，好的观点，并且从中观察他</tspan><tspan x="2180" dy="14.8">们各方面的能力，再加以培养。</tspan></text>
<text class="t" x="2180" y="3849">(3)干事每月上交一份工作总结，并对文艺部<tspan x="2180" dy="14.8">提出建议及要求。</tspan></text>
<text class="t" x="2180" y="3914.7">(4)每次活动之前都要有详细的工作分配予干<tspan x="2180" dy="14.8">事，要求责任到位。活动结束后要有一份工作</tspan><tspan x="2180" dy="14.8">总结及心得。</tspan></text>
<text class="t" x="2180" y="3995">(5)由于艺术团需要重新整改，因此干事的培<tspan x="2180" dy="14.8">养也可充分体现。</tspan></text>
<text class="t" x="2180" y="4060.6">(1)配合院团委搞好各项文娱活动，树立好学<tspan x="2180" dy="14.8">院学生会的品牌形象。</tspan></text>
<text class="t" x="2180" y="4127">(2)加强学生会文艺部与各个班级的交流。</text>
<text class="t" x="2180" y="4177">(3)加强部门内部各个成员的交流沟通，营造<tspan x="2180" dy="14.8">一种团结一致的工作氛围，这样才更加有利于</tspan><tspan x="2180" dy="14.8">各项工作的顺利开展。</tspan></text>
<text class="t" x="2180" y="4257.7">(4)在工作中不断发现部门内部的问题，总结<tspan x="2180" dy="14.8">经验,并及时解决;以实事求是、积极向上的工</tspan><tspan x="2180" dy="14.8">作态度面对新问题，迎接新挑战。</tspan></text>
<text class="t" x="2083" y="4446">1、艺术团的整改运作(3月)</text>
<text class="t" x="2083" y="4707">2、校园歌手大赛(3-4月)</text>
<text class="t" x="2083" y="4952">3、迎奥运班级风采大赛(4-5月)</text>
<text class="t" x="2083" y="5391">4、毕业生晚会(5-6月)</text>
<text class="t" x="2252" y="4340.5">本学期会对艺术团整体重新调整，进行定期培<tspan x="2252" dy="14.8">训、排练，重点是排出可以随时拿出的节目，</tspan><tspan x="2252" dy="14.8">为每一次活动做充分准备，在活动中拿出属于</tspan><tspan x="2252" dy="14.8">艺术团的东西，树立艺术团在广大同学心目中</tspan><tspan x="2252" dy="14.8">的形象。</tspan></text>
<text class="t" x="2252" y="4449.4">根据上次艺术团招新同学们的咨询发现，同学<tspan x="2252" dy="14.8">们根本是想从艺术团中学到东西，让自己的才</tspan><tspan x="2252" dy="14.8">艺得到锻炼，想要吸引同学们的眼球，留住有</tspan><tspan x="2252" dy="14.8">才艺的同学，就要有长期的训练目标并加以训</tspan><tspan x="2252" dy="14.8">练，在下一次晚会中，给他们足够的展示空间</tspan><tspan x="2252" dy="14.8">，从而杜绝“无才艺的同学硬着头皮上台，有</tspan><tspan x="2252" dy="14.8">才艺的同学反而成为观众”的现象。我们计划</tspan><tspan x="2252" dy="14.8">针对各支队伍想出好的节目主题，直接以公开</tspan><tspan x="2252" dy="14.8">的主题自愿招收成员，让他们看到实质的艺术</tspan><tspan x="2252" dy="14.8">团的运作，并且以相应的举措给予奖励和鼓励</tspan><tspan x="2252" dy="14.8">。</tspan></text>
<text class="t" x="2240" y="4647.6">歌手大赛是我们文艺部的“品牌活动”，所以<tspan x="2240" dy="14.8">做好做精这项品牌是我们的重中之重，此次我</tspan><tspan x="2240" dy="14.8">们会完善部分不全面的比赛制度，改变以前不</tspan><tspan x="2240" dy="14.8">合理的比赛制度，从不同的角度去考察选手的</tspan><tspan x="2240" dy="14.8">音乐技能，以便更全面的体现选手的才能;多</tspan><tspan x="2240" dy="14.8">重的考量也会避免一些偶然性，用更新的赛制</tspan><tspan x="2240" dy="14.8">做到将比赛尽量公平、公开、公正，使歌手大</tspan><tspan x="2240" dy="14.8">赛更加合理、全面，同时更具吸引力，在这样</tspan><tspan x="2240" dy="14.8">极具特色的活动中更会有所创新。</tspan></text>
<text class="t" x="2275" y="4816">下学期文艺部的一个创新活动，即“迎奥运班<tspan x="2275" dy="14.8">级风采大赛”。在奥运即将来到之时，可相应</tspan><tspan x="2275" dy="14.8">的与女生部、学习部、素质拓展部合作开展此</tspan><tspan x="2275" dy="14.8">项活动;以班级为单位，开展一系列的奥运主</tspan><tspan x="2275" dy="14.8">题月活动，活动可分为知识竞赛与才艺风采大</tspan><tspan x="2275" dy="14.8">赛，可以由文艺部和学习部一起承办，主题为</tspan><tspan x="2275" dy="14.8">“我能为奥运做些什么”等等，并且伴随专业</tspan><tspan x="2275" dy="14.8">特色，最后按累计积分进行评比，专业特色与</tspan><tspan x="2275" dy="14.8">主题结合好的班级还可以评出个别单项奖。</tspan></text>
<text class="t" x="2275" y="4985">通过此次大赛，一方面可以使班与班之间增进<tspan x="2275" dy="14.8">了解，加深友谊及集体荣誉感，另一方面为树</tspan><tspan x="2275" dy="14.8">立我院的品牌形象打牢基础，由班级风采融合</tspan><tspan x="2275" dy="14.8">专业特色,再加上近来全国人民都很关注的奥</tspan><tspan x="2275" dy="14.8">运主题，这样的多样创新点不仅树立了我院的</tspan><tspan x="2275" dy="14.8">形象，而且还紧跟了时代的步伐，切合了我们</tspan><tspan x="2275" dy="14.8">当代大学生的思想。</tspan></text>
<text class="t" x="2228" y="5125.7">毕业晚会是一年一度最重要的晚会。同时也是<tspan x="2228" dy="14.8">有效的体现我们工作成效和对外树立我院形象</tspan><tspan x="2228" dy="14.8">的大好时机，所以此次毕业晚会在形式上我们</tspan><tspan x="2228" dy="14.8">会有所改变，鉴于这一届毕业生在不同方面、</tspan><tspan x="2228" dy="14.8">不同领域都有较突出的成绩，则借此机会在学</tspan><tspan x="2228" dy="14.8">习、服务、特长、工作等各个方面进行表彰，</tspan><tspan x="2228" dy="14.8">以此来纪念他们为学院所作的贡献。以这种方</tspan><tspan x="2228" dy="14.8">式为主线，将整个晚会串联下去。</tspan></text>
<text class="t" x="2228" y="5280.3">采用这种模式就是希望该活动能让毕业生感受<tspan x="2228" dy="14.8">到“学院是家”的氛围，让部分从事学生工作</tspan><tspan x="2228" dy="14.8">的一些老干部们感受到学生会不仅是我们工作</tspan><tspan x="2228" dy="14.8">的地方，更像是我们的家!同时也可以将部分</tspan><tspan x="2228" dy="14.8">毕业生家长请到现场，与老师互动、沟通起来</tspan><tspan x="2228" dy="14.8">，也可通过毕业生的真人真事改编成小剧本，</tspan><tspan x="2228" dy="14.8">让每个毕业生都深深的感受到学院的温暖!</tspan></text>
<text class="t" x="2228" y="5420.8">作为一个特殊的部门，我们的活动是计划赶不<tspan x="2228" dy="14.8">上变化，但我们的宗旨是丰富同学们的课余生</tspan><tspan x="2228" dy="14.8">活，全心全意为同学服务，尽心尽力去开办好</tspan><tspan x="2228" dy="14.8">每一个活动。我们要带着“艺心艺德、文质舞</tspan><tspan x="2228" dy="14.8">功、团结协作、精益求精”这样一种全新的工</tspan><tspan x="2228" dy="14.8">作理念去开展工作，打造全新的生命科学院品</tspan><tspan x="2228" dy="14.8">牌。</tspan></text>
<text class="t" x="2228" y="5560.2">若无太大的变动，我们将严格按照计划开展本<tspan x="2228" dy="14.8">学期的工作，同时，根据各部门的要求和需要</tspan><tspan x="2228" dy="14.8">，密切配合学校的各项工作，并以实际工作中</tspan><tspan x="2228" dy="14.8">的变化和需要进行调整。我们希望在团结协作</tspan><tspan x="2228" dy="14.8">的力量下，将文艺部今后的工作开展的绘声绘</tspan><tspan x="2228" dy="14.8">色，能够真正起到活跃校园文化的作用，为同</tspan><tspan x="2228" dy="14.8">学们搭建起一个充分展示自我的舞台。</tspan></text>
</g>

<g id="watermarks">
<text class="wm" transform="translate(672,562) rotate(-31)">树图 shutu.cn</text>
<text class="wm" transform="translate(672,1555) rotate(-31)">树图 shutu.cn</text>
<text class="wm" transform="translate(672,2566) rotate(-31)">树图 shutu.cn</text>
<text class="wm" transform="translate(672,3558) rotate(-31)">树图 shutu.cn</text>
<text class="wm" transform="translate(672,4552) rotate(-31)">树图 shutu.cn</text>
<text class="wm" transform="translate(672,5490) rotate(-31)">树图 shutu.cn</text>
<text class="wm" transform="translate(1950,540) rotate(-31)">树图 shutu.cn</text>
<text class="wm" transform="translate(1950,1550) rotate(-31)">树图 shutu.cn</text>
<text class="wm" transform="translate(1950,2560) rotate(-31)">树图 shutu.cn</text>
<text class="wm" transform="translate(1950,3565) rotate(-31)">树图 shutu.cn</text>
<text class="wm" transform="translate(1950,4560) rotate(-31)">树图 shutu.cn</text>
<text class="wm" transform="translate(1950,5500) rotate(-31)">树图 shutu.cn</text>
</g>
</g>
</svg>
